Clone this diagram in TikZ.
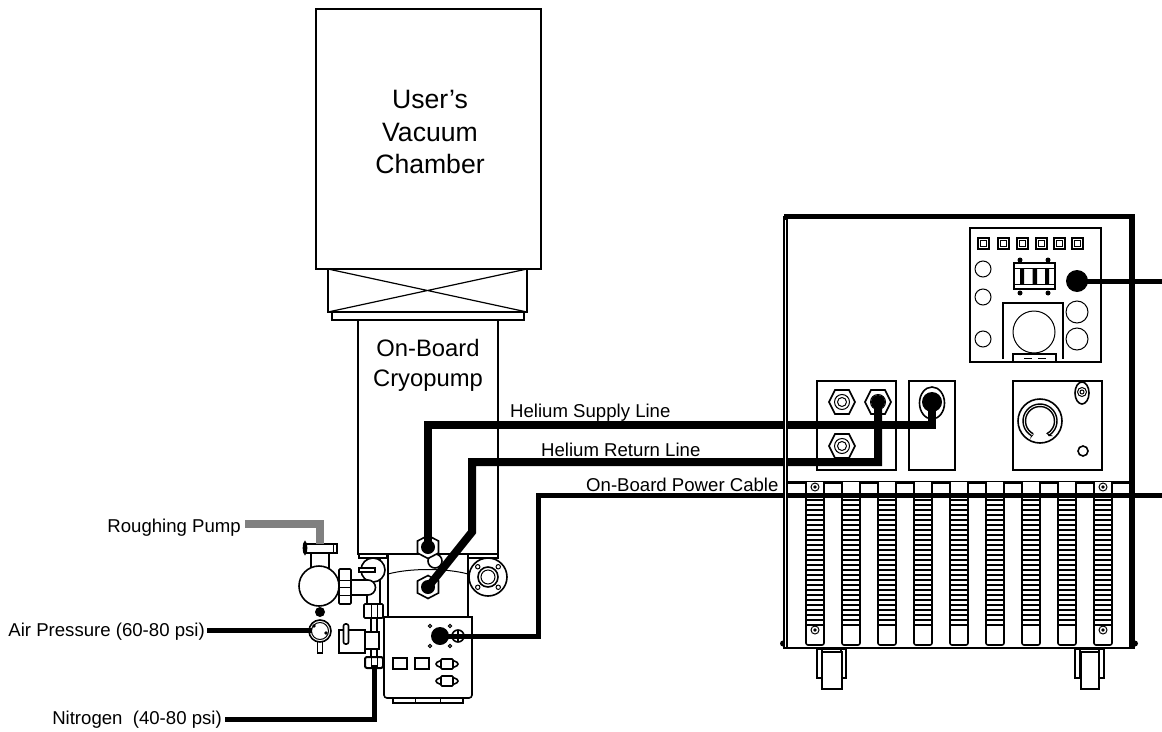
\documentclass[tikz,border=0pt]{standalone}
\usepackage{fontspec}
\setmainfont{Liberation Sans}
\begin{document}
\begin{tikzpicture}[x=1pt,y=-1pt,
  ol/.style={draw=black,line width=1.6pt,fill=white},
  thin ol/.style={draw=black,line width=1pt,fill=white},
  big/.style={draw=black,line width=2.6pt,fill=white},
  cable/.style={draw=black,line width=8pt,line join=miter},
  wire/.style={draw=black,line width=5pt,line join=miter},
  biglabel/.style={font=\fontsize{26.6}{32.5}\selectfont,align=center,inner sep=0pt},
  pumplabelstyle/.style={font=\fontsize{23.8}{30}\selectfont,align=center,inner sep=0pt},
  smalllabel/.style={font=\fontsize{18.6}{20}\selectfont,inner sep=0pt}]
\useasboundingbox (0,0) rectangle (1162,731);
\fill[white] (0,0) rectangle (1162,731);
% chamber, gate valve, pump
\draw[big] (316,9) rectangle (541,269);
\draw[big] (328,269) rectangle (527,312);
\draw[thin ol,line width=1.2pt] (328,269) -- (527,312) (527,269) -- (328,312);
\draw[big,line width=2pt] (332,312) rectangle (524,320);
\draw[big,line width=2pt] (358,320) rectangle (498,554);
\node[biglabel] (chamberlabel) at (430,132) {User’s\\Vacuum\\Chamber};
\node[pumplabelstyle] (pumplabel) at (428,365) {On-Board\\Cryopump};
% pump body
\draw[ol] (359,554) rectangle (387,558);
\draw[ol] (468,554) rectangle (498,558);
\draw[ol] (388,554) rectangle (468,617);
\draw[thin ol,fill=none] (388,574) .. controls (410,568) and (446,568) .. (468,574);
% right flange
\draw[ol] (481,558) rectangle (495,562);
\draw[ol] (488,577) circle (19);
\draw[ol] (488,577) circle (10);
\draw[thin ol] (488,577) circle (7);
\foreach \a in {45,135,225,315} \draw[thin ol] (488,577) ++(\a:14.5) circle (2.2);
% left pipework
\draw[ol] (367,560) rectangle (380,604);
\draw[ol] (373,570) circle (12);
\draw[ol] (359,568) rectangle (375,572);
\draw[ol] (351,580) -- (368,580) arc (-90:90:7.5) -- (351,595) -- cycle;
\draw[ol,rounded corners=1pt] (339,569) rectangle (351,604);
\draw[thin ol] (339,580) -- (351,580) (339,587) -- (351,587) (339,595) -- (351,595);
\draw[ol] (311,553) rectangle (329,570);
\draw[ol] (319,586) circle (20);
\draw[ol] (306,544) rectangle (337,553);
\draw[thin ol] (333,544) -- (333,553);
\draw[ol,fill=black] (305,548) ellipse (1.5 and 6);
% roughing pump line
\coordinate (roughend) at (245,524);
\coordinate (roughtop) at (319.5,524);
\coordinate (roughvalve) at (319.5,544);
\draw[draw=black!50,line width=8pt,line join=miter] (roughend) -- (roughtop) -- (roughvalve);
% gauge
\draw[ol] (317.5,638) rectangle (322.5,653);
\fill[black] (320,612) circle (5);
\draw[ol] (320,631) circle (11);
\draw[thin ol] (320,631) circle (8.5);
\fill[black] (314,626) circle (1.8) (326,633) circle (1.8);
% solenoid and lower pipe
\draw[ol] (371,618) rectangle (377,657);
\draw[ol,rounded corners=1pt] (364,604) rectangle (383,618);
\draw[thin ol] (371,604) -- (371,618) (377,604) -- (377,618);
\draw[ol] (339,630) rectangle (365,653);
\draw[ol] (365,632) rectangle (379,649);
\draw[ol,rounded corners=2pt] (343.5,624) rectangle (348.5,644);
\draw[ol,rounded corners=2pt,line width=2pt] (365,657) rectangle (383,668);
\draw[thin ol] (371,657) -- (371,668) (377,657) -- (377,668);
% electronics box
\draw[ol] (393,698) rectangle (463,703);
\draw[thin ol] (415,698) -- (415,703) (440,698) -- (440,703);
\draw[ol] (384,617) -- (472,617) -- (472,695) arc (0:90:3) -- (387,698) arc (90:180:3) -- cycle;
\draw[ol,line width=2pt] (393,658) rectangle (407,669);
\draw[ol,line width=2pt] (415,658) rectangle (429,669);
\foreach \y in {664,681} {
  \draw[ol] (447,\y) ellipse (11 and 4);
  \draw[ol,rounded corners=1pt] (441,\y-5) rectangle (453,\y+5);
}
% connector
\foreach \dx/\dy in {-10/-10,10/-10,-10/10,10/10} \draw[thin ol] (440+\dx,636+\dy) circle (1.6);
\node[circle,fill=black,minimum size=18pt,inner sep=0pt] (pumpconn) at (440,636) {};
\draw[ol] (458,636) circle (6);
\draw[thin ol,line width=1.4pt] (452,636) -- (464,636) (458,630) -- (458,642);
% hex fittings on pump
\draw[ol] (435,561) circle (7);
\foreach \n/\y in {hexa/547,hexb/587} {
  \draw[ol] (428-10.5,\y-6) -- (428,\y-11.5) -- (428+10.5,\y-6) -- (428+10.5,\y+6) -- (428,\y+11.5) -- (428-10.5,\y+6) -- cycle;
  \node[circle,fill=black,minimum size=14pt,inner sep=0pt] (\n) at (428,\y) {};
}
% air and nitrogen
\coordinate (airend) at (207,630.5);
\coordinate (airgauge) at (312,630.5);
\draw[wire] (airend) -- (airgauge);
\coordinate (nitend) at (225,719);
\coordinate (nitbend) at (374,719);
\coordinate (nitfit) at (374,665);
\draw[wire] (nitend) -- (nitbend) -- (nitfit);
% cabinet
\draw[draw=black,line width=3pt] (788,482) -- (1132,482);
\foreach \x in {815,851,887,923,959,995,1031,1067,1103} {
  \draw[ol] (\x-9,482) -- (\x-9,643) arc (180:90:2) -- (\x+7,645) arc (90:0:2) -- (\x+9,482);
  \foreach \y in {500,505,...,625} \draw[draw=black,line width=1.5pt] (\x-9,\y) -- (\x+9,\y);
}
\foreach \x/\y in {815/487,1103/487,815/630,1103/630} {
  \draw[thin ol] (\x,\y) circle (4);
  \fill[black] (\x,\y) circle (1.8);
}
\draw[draw=black,line width=5.5pt] (784,216.5) -- (1132,216.5) -- (1132,648);
\draw[draw=black,line width=2pt] (783,648) -- (1135,648);
\fill[black] (783,643.5) circle (3) (1135,643.5) circle (3);
% feet
\foreach \bl/\wl/\wr in {817/822/842,1075/1081/1099} {
  \draw[ol] (\bl,649) rectangle (\bl+29,678);
  \draw[ol] (\bl+5,649) -- (\bl+5,678) (\bl+24,649) -- (\bl+24,678);
  \draw[ol] (\wl,652) rectangle (\wr,689);
}
% upper panel
\draw[ol] (970,228) rectangle (1101,362);
\foreach \x in {983,1003,1022,1041,1059,1077} {
  \draw[ol,line width=2pt] (\x-5.5,237.5) rectangle (\x+5.5,248.5);
  \draw[thin ol] (\x-3,240.5) rectangle (\x+3,246);
}
\draw[thin ol] (983,269) circle (8) (983,297) circle (8) (983,339) circle (8);
\draw[thin ol] (1077,312) circle (11) (1077,339) circle (11);
\fill[black] (1020,260) circle (2.5) (1048,260) circle (2.5) (1020,293) circle (2.5) (1048,293) circle (2.5);
\draw[ol,line width=2pt] (1014,263) rectangle (1055,289);
\draw[thin ol] (1014,268) -- (1055,268) (1014,284) -- (1055,284);
\fill[black] (1020,268) rectangle (1024,284) (1032.5,268) rectangle (1037,284) (1045,268) rectangle (1049,284);
\draw[ol,fill=none] (1003,359) -- (1003,303) -- (1063,303) -- (1063,359);
\draw[thin ol] (1034,332) circle (21);
\draw[ol] (1013,354) rectangle (1056,362);
\draw[thin ol] (1024,358) -- (1032,358) (1038,358) -- (1046,358);
\node[circle,fill=black,minimum size=22pt,inner sep=0pt] (mainconn) at (1077,281) {};
% middle panels
\draw[ol] (817,381) rectangle (896,470);
\draw[ol] (909,381) rectangle (955,470);
\draw[ol] (1013,381) rectangle (1102,470);
\foreach \n/\x/\y in {sa/842/402,sb/878/402,sc/842/446} {
  \draw[ol] (\x-13,\y) -- (\x-7,\y-12) -- (\x+7,\y-12) -- (\x+13,\y) -- (\x+7,\y+12) -- (\x-7,\y+12) -- cycle;
  \draw[thin ol] (\x,\y) circle (7.5);
  \draw[thin ol] (\x,\y) circle (4.5);
}
\node[circle,fill=black,minimum size=14pt,inner sep=0pt] (retport) at (878,402) {};
\draw[ol] (932,403) ellipse (12.5 and 16);
\node[circle,fill=black,minimum size=20pt,inner sep=0pt] (support) at (932,402) {};
\draw[ol] (1040,421) circle (22);
\draw[thin ol,fill=none,line width=1.4pt] (1040,421) ++(120:17) arc (120:420:17);
\draw[thin ol,fill=none,line width=1.4pt] (1040,421) ++(118:14.5) arc (118:422:14.5);
\fill[black] (1031,436) -- (1034,434) -- (1030,439) -- cycle (1049,436) -- (1046,433) -- (1053,436) -- cycle;
\draw[ol] (1082,393) ellipse (7 and 11);
\draw[thin ol] (1082,392) circle (4.5);
\draw[thin ol] (1082,392) circle (2);
\draw[ol] (1083,451) circle (5);
% connectors
\coordinate (supbend1) at (428,425);
\coordinate (supbend2) at (932,425);
\draw[cable] (hexa.center) -- (supbend1) -- (supbend2) -- (support.center);
\coordinate (retkink) at (472,532);
\coordinate (retbend1) at (472,462);
\coordinate (retbend2) at (878,462);
\draw[cable] (hexb.center) -- (retkink) -- (retbend1) -- (retbend2) -- (retport.center);
\coordinate (pwrbend1) at (538,636);
\coordinate (pwrbend2) at (538,495);
\coordinate (pwrend) at (1162,495);
\draw[wire] (pumpconn.center) -- (pwrbend1) -- (pwrbend2) -- (pwrend);
\coordinate (mainend) at (1162,282.5);
\draw[wire] (mainconn.center) -- (mainend |- mainconn.center);
% left wall over the cables
\draw[draw=black,line width=4.5pt] (785.7,216) -- (785.7,648);
\draw[draw=white,line width=1pt] (785.7,220) -- (785.7,647);
% labels
\node[smalllabel,anchor=west] (l1) at (510,412.5) {Helium Supply Line};
\node[smalllabel,anchor=west] (l2) at (541,449.5) {Helium Return Line};
\node[smalllabel,anchor=west] (l3) at (586,485) {On-Board Power Cable};
\node[smalllabel,anchor=east] (l4) at (241,528) {Roughing Pump};
\node[smalllabel,anchor=east] (l5) at (205,632) {Air Pressure (60-80 psi)};
\node[smalllabel,anchor=east] (l6) at (222,720) {Nitrogen\ \ (40-80 psi)};
\end{tikzpicture}
\end{document}
